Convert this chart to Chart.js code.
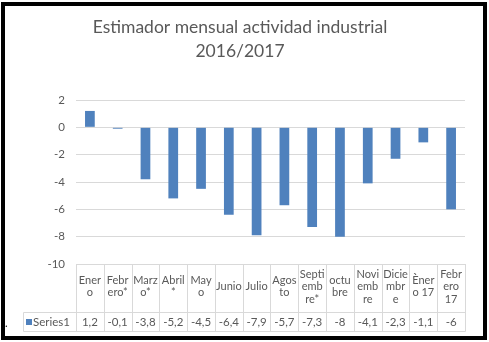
<!DOCTYPE html>
<html><head><meta charset="utf-8">
<script src="https://cdn.jsdelivr.net/npm/chart.js@4/dist/chart.umd.min.js"></script>
<style>
html,body{margin:0;padding:0;background:#fff;}
#wrap{position:relative;width:489px;height:342px;overflow:hidden;background:#fff;}
#c{position:absolute;left:0;top:0;}
#frame{position:absolute;left:1px;top:2px;width:486px;height:338px;box-sizing:border-box;border:4px solid #000;pointer-events:none;}
</style></head><body>
<div id="wrap"><canvas id="c" width="489" height="342"></canvas><div id="frame"></div></div>
<script>
const titleLines = ['Estimador mensual actividad industrial', '2016/2017'];
const categories = ['Enero','Febrero*','Marzo*','Abril*','Mayo','Junio','Julio','Agosto','Septiembre*','octubre','Noviembre','Diciembre','Ènero 17','Febrero 17'];
const categoryLines = [['Ener','o'],['Febr','ero*'],['Marz','o*'],['Abril','*'],['May','o'],['Junio'],['Julio'],['Agos','to'],['Septi','emb','re*'],['octu','bre'],['Novi','emb','re'],['Dicie','mbr','e'],['Èner','o 17'],['Febr','ero','17']];
const seriesName = 'Series1';
const series1 = [1.2,-0.1,-3.8,-5.2,-4.5,-6.4,-7.9,-5.7,-7.3,-8,-4.1,-2.3,-1.1,-6];
const yMin = -10, yMax = 2, yStep = 2;

const TEXT = '#595959', GRID = '#d9d9d9', BLUE = '#4f81bd', FONT = 'Lato, "Open Sans", sans-serif';

const tablePlugin = {
  id: 'tableAndTitle',
  afterDraw(chart) {
    const c = chart.ctx, xs = chart.scales.x, area = chart.chartArea;
    const n = categories.length;
    const colW = (area.right - area.left) / n;
    const top = area.bottom, mid = 312.5, bot = 331.5, legL = 23.5;
    c.save();
    // title
    c.fillStyle = TEXT;
    c.textAlign = 'center';
    c.textBaseline = 'alphabetic';
    c.font = '17.5px ' + FONT;
    c.fillText(titleLines[0], 240, 33);
    c.fillText(titleLines[1], 240, 57);
    // table lines
    c.strokeStyle = GRID; c.lineWidth = 1;
    c.beginPath();
    for (let i = 0; i <= n; i++) {
      const xb = i < n ? xs.getPixelForValue(i) - colW / 2 : area.right;
      const x = Math.round(xb) + 0.5;
      c.moveTo(x, top); c.lineTo(x, bot);
    }
    c.moveTo(legL, mid); c.lineTo(area.right + 0.5, mid);
    c.moveTo(legL, bot); c.lineTo(area.right + 0.5, bot);
    c.moveTo(legL, mid); c.lineTo(legL, bot);
    c.stroke();
    // header labels
    c.fillStyle = TEXT;
    c.font = '11px ' + FONT;
    c.textAlign = 'center';
    c.textBaseline = 'middle';
    const lh = 12.5, hc = 286.5;
    categoryLines.forEach((lines, i) => {
      const x = xs.getPixelForValue(i);
      const y0 = hc - (lines.length - 1) * lh / 2;
      lines.forEach((t, k) => c.fillText(t, x, y0 + k * lh));
    });
    // values row
    c.font = '11.5px ' + FONT;
    const vy = 322;
    series1.forEach((v, i) => {
      c.fillText(String(v).replace('.', ','), xs.getPixelForValue(i), vy);
    });
    // legend key
    c.fillStyle = BLUE;
    c.fillRect(26, 319, 6, 6);
    c.fillStyle = TEXT;
    c.textAlign = 'left';
    c.fillText(seriesName, 33, vy);
    // stray dot
    c.fillStyle = '#000';
    c.font = '11px ' + FONT;
    c.fillText('.', 5, 323);
    c.restore();
  }
};

new Chart(document.getElementById('c').getContext('2d'), {
  type: 'bar',
  data: {
    labels: categories,
    datasets: [{ label: seriesName, data: series1, backgroundColor: BLUE, barPercentage: 0.35, categoryPercentage: 1 }]
  },
  options: {
    responsive: false, animation: false, devicePixelRatio: 1,
    layout: { padding: { top: 100, left: 0, right: 24, bottom: 78 } },
    plugins: { legend: { display: false }, title: { display: false }, tooltip: { enabled: false } },
    scales: {
      x: { display: false, offset: true, grid: { display: false } },
      y: {
        min: yMin, max: yMax,
        afterFit(s) { s.width = 76; },
        ticks: { stepSize: yStep, padding: 11, color: TEXT, font: { family: FONT, size: 11.5 } },
        grid: { color: GRID, drawTicks: false },
        border: { display: false }
      }
    }
  },
  plugins: [tablePlugin]
});
</script>
</body></html>
